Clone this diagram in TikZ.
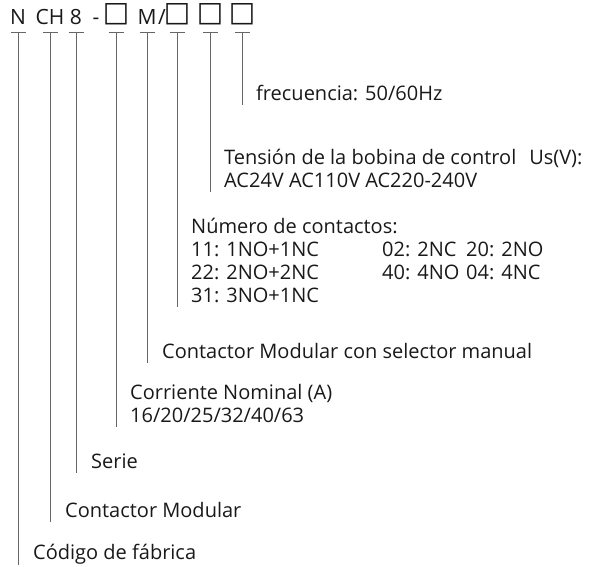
\documentclass[tikz,border=0pt]{standalone}
\usepackage{fontspec}
\setmainfont{Open Sans}
\newfontfamily\symfont{DejaVu Sans}
\usepackage{tikz}
\usetikzlibrary{positioning}

\newcommand{\sq}{\raisebox{3pt}{\symfont\fontsize{28}{28}\selectfont □}}
\newcommand{\lastdp}{\rule[-4pt]{0pt}{4pt}}

\begin{document}
\begin{tikzpicture}[
  x=1pt,y=-1pt,
  code/.style={anchor=base,inner sep=0pt,font=\fontsize{21}{23}\selectfont,text=black!90},
  desc/.style={anchor=south west,inner sep=0pt,align=left,
               font=\fontsize{20}{23}\selectfont,text=black!90},
  lead/.style={draw=black!60,line width=0.9pt}
]
 \useasboundingbox (0,0) rectangle (606,567);
 % type code on top
 \node[code] (cN) at (18,25) {N};
 \node[code] (cCH) at (50,25) {CH};
 \node[code] (c8) at (76,25) {8};
 \node[code] (cdash) at (96,25) {-};
 \node[code] (cI) at (116,25) {\sq};
 \node[code] (cM) at (147,25) {M};
 \node[code] (cslash) at (162,25) {/};
 \node[code] (cII) at (177,25) {\sq};
 \node[code] (cIII) at (210,25) {\sq};
 \node[code] (cIV) at (242,25) {\sq};
 \coordinate (bar) at (0,32);

 % meaning of each part
 \node[desc] (dfreq) at (256,105) {frecuencia: 50/60Hz\lastdp};
 \node[desc] (dvolt) at (224,192)
       {Tensión de la bobina de control\hspace{13pt}Us(V):\\AC24V AC110V AC220-240V\lastdp};
 \node[desc] (dcont) at (191,307)
       {Número de contactos:\\
        \makebox[191pt][l]{11: 1NO+1NC}\makebox[84pt][l]{02: 2NC}20: 2NO\\
        \makebox[191pt][l]{22: 2NO+2NC}\makebox[84pt][l]{40: 4NO}04: 4NC\\
        31: 3NO+1NC\lastdp};
 \node[desc] (dsel) at (162,363) {Contactor Modular con selector manual\lastdp};
 \node[desc] (dcur) at (130,427) {Corriente Nominal (A)\\16/20/25/32/40/63\lastdp};
 \node[desc] (dser) at (91,473) {Serie\lastdp};
 \node[desc] (dmod) at (65,522) {Contactor Modular\lastdp};
 \node[desc] (dfab) at (33,565) {Código de fábrica\lastdp};

 \foreach \c/\d in {cN/dfab,cCH/dmod,c8/dser,cI/dcur,cM/dsel,cII/dcont,cIII/dvolt,cIV/dfreq}{
   \draw[lead] (\c |- bar) ++(-7.5,0) -- ++(15,0);
   \draw[lead] (\c |- bar) -- (\c |- \d.south);
 }
\end{tikzpicture}
\end{document}
